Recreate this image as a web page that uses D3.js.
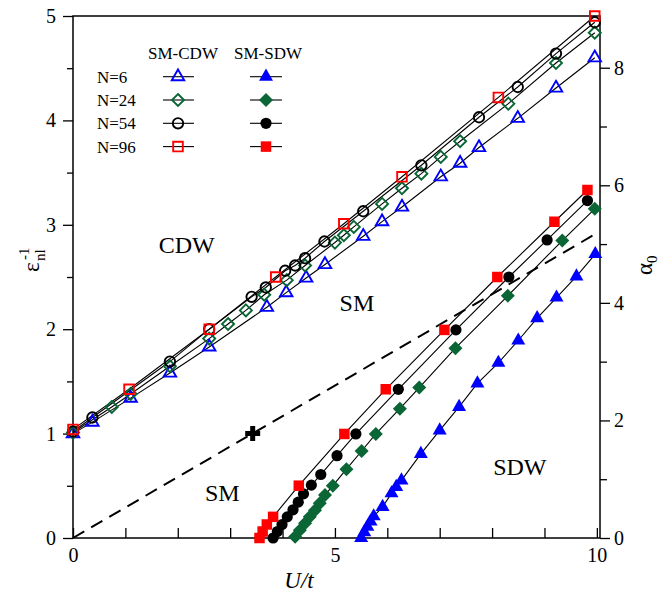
<!DOCTYPE html>
<html><head><meta charset="utf-8">
<script src="https://cdn.jsdelivr.net/npm/d3@7/dist/d3.min.js"></script>
<style>
body{margin:0;background:#fff}
svg{display:block}
text{font-family:"Liberation Serif","Times New Roman",serif;fill:#000}
</style>
</head><body>
<svg id="c" width="668" height="597"></svg>
<script>
// ---------- data ----------
// SM-CDW boundary: inverse non-local dielectric, left axis
const uCdwN6   = [0, 0.37, 1.1, 1.85, 2.6, 3.7, 4.07, 4.45, 4.81, 5.54, 5.9, 6.28, 7.02, 7.39, 7.75, 8.49, 9.22, 9.96];
const epsCdwN6 = [1.0, 1.11, 1.34, 1.58, 1.83, 2.21, 2.35, 2.49, 2.62, 2.89, 3.03, 3.17, 3.46, 3.59, 3.74, 4.02, 4.31, 4.6];
const uCdwN24   = [0, 0.74, 1.1, 1.85, 2.6, 2.96, 3.3, 3.65, 4.08, 4.43, 5.0, 5.17, 5.36, 5.9, 6.28, 6.65, 7.02, 7.39, 8.31, 9.22, 9.96];
const epsCdwN24 = [1.01, 1.255, 1.38, 1.645, 1.91, 2.05, 2.18, 2.33, 2.47, 2.61, 2.83, 2.9, 2.98, 3.2, 3.35, 3.49, 3.65, 3.8, 4.16, 4.55, 4.84];
const uCdwN54   = [0, 0.37, 1.85, 2.6, 3.41, 3.68, 4.05, 4.24, 4.43, 4.8, 5.54, 6.65, 7.75, 8.49, 9.22, 9.96];
const epsCdwN54 = [1.02, 1.154, 1.69, 2.0, 2.31, 2.4, 2.56, 2.61, 2.68, 2.84, 3.13, 3.57, 4.03, 4.32, 4.64, 4.94];
const uCdwN96   = [0, 1.07, 2.6, 3.87, 5.17, 6.28, 8.12, 9.96];
const epsCdwN96 = [1.04, 1.425, 2.0, 2.5, 3.01, 3.46, 4.22, 5.0];
// SM-SDW boundary: alpha_0, right axis
const uSdwN6     = [5.5, 5.56, 5.62, 5.68, 5.74, 5.91, 6.08, 6.17, 6.27, 6.64, 7.0, 7.37, 7.72, 8.12, 8.5, 8.86, 9.23, 9.61, 9.97];
const alphaSdwN6 = [0.0, 0.1, 0.19, 0.28, 0.37, 0.53, 0.76, 0.87, 0.98, 1.43, 1.83, 2.23, 2.63, 2.98, 3.36, 3.74, 4.09, 4.45, 4.83];
const uSdwN24     = [4.24, 4.33, 4.43, 4.52, 4.62, 4.71, 4.81, 4.96, 5.22, 5.51, 5.78, 6.24, 6.61, 7.3, 8.3, 9.34, 9.96];
const alphaSdwN24 = [0.02, 0.13, 0.25, 0.36, 0.47, 0.59, 0.73, 0.89, 1.17, 1.48, 1.77, 2.2, 2.56, 3.23, 4.12, 5.06, 5.6];
const uSdwN54     = [3.82, 3.9, 3.99, 4.09, 4.2, 4.3, 4.4, 4.55, 4.73, 5.04, 5.4, 6.21, 7.31, 8.32, 9.05, 9.82];
const alphaSdwN54 = [0.0, 0.11, 0.23, 0.36, 0.48, 0.61, 0.75, 0.9, 1.08, 1.4, 1.77, 2.53, 3.54, 4.44, 5.07, 5.74];
const uSdwN96     = [3.56, 3.62, 3.7, 3.82, 4.31, 5.18, 5.97, 7.09, 8.1, 9.19, 9.82];
const alphaSdwN96 = [0.0, 0.11, 0.23, 0.36, 0.89, 1.77, 2.53, 3.54, 4.44, 5.38, 5.92];
// dashed boundary and marked point (left-axis units)
const uDashed   = [0, 10];
const epsDashed = [0, 2.92];
const crossPoint = [3.43, 1.0];
// axes
const xTicks = [0,1,2,3,4,5,6,7,8,9,10];
const xLabels = [0,5,10];
const yMajor = [0,1,2,3,4,5];
const yMinor = [0.5,1.5,2.5,3.5,4.5];
const aMajor = [0,2,4,6,8];
const aMinor = [1,3,5,7];
const legendNames = ["N=6","N=24","N=54","N=96"];
const regionLabels = [
  {t:"CDW", u:2.17, e:2.73},
  {t:"SM",  u:5.42, e:2.17},
  {t:"SM",  u:2.85, e:0.35},
  {t:"SDW", u:8.53, e:0.6}
];

// ---------- scales ----------
const L=73, R=600, T=16, B=538;
const x  = d3.scaleLinear().domain([0,10.06]).range([L,R]);
const yL = d3.scaleLinear().domain([0,5]).range([B,T]);
const yR = d3.scaleLinear().domain([0,8.88]).range([B,T]);

const svg = d3.select("#c");
const colors = {N6:"#0000ff", N24:"#0a6634", N54:"#000000", N96:"#ff0000"};

// ---------- shapes ----------
function triPath(s){const h=s*Math.sqrt(3)/2;return `M0,${-2*h/3}L${s/2},${h/3}L${-s/2},${h/3}Z`;}
function diaPath(r){return `M0,${-r}L${r},0L0,${r}L${-r},0Z`;}
function sqPath(s){return `M${-s/2},${-s/2}h${s}v${s}h${-s}Z`;}
function circPath(r){return `M${r},0A${r},${r} 0 1,1 ${-r},0A${r},${r} 0 1,1 ${r},0Z`;}
const openShapes  = {N6:triPath(12.5), N24:diaPath(6), N54:circPath(5.2), N96:sqPath(9.6)};
const filledShapes= {N6:triPath(14), N24:diaPath(7), N54:circPath(5.6), N96:sqPath(10.5)};

const cdw = [
  {k:"N6",  u:uCdwN6,  v:epsCdwN6},
  {k:"N24", u:uCdwN24, v:epsCdwN24},
  {k:"N54", u:uCdwN54, v:epsCdwN54},
  {k:"N96", u:uCdwN96, v:epsCdwN96}
];
const sdw = [
  {k:"N6",  u:uSdwN6,  v:alphaSdwN6},
  {k:"N24", u:uSdwN24, v:alphaSdwN24},
  {k:"N54", u:uSdwN54, v:alphaSdwN54},
  {k:"N96", u:uSdwN96, v:alphaSdwN96}
];

// ---------- axes ----------
const fs = 20;
function styleAxis(g){g.select(".domain").remove();g.selectAll("line").attr("stroke","#000").attr("stroke-width",1.3);
  g.selectAll("text").attr("font-size",fs).attr("font-family","Liberation Serif");}
svg.append("g").attr("transform",`translate(${L},0)`)
  .call(d3.axisLeft(yL).tickValues(yMajor).tickSize(10).tickPadding(7).tickFormat(d3.format("d"))).call(styleAxis);
svg.append("g").attr("transform",`translate(${L},0)`)
  .call(d3.axisLeft(yL).tickValues(yMinor).tickSize(6).tickFormat("")).call(styleAxis);
svg.append("g").attr("transform",`translate(0,${B})`)
  .call(d3.axisBottom(x).tickValues(xTicks).tickSizeInner(-10).tickSizeOuter(0).tickPadding(10)
     .tickFormat(d=>xLabels.includes(d)?String(d):"")).call(styleAxis);
svg.append("g").attr("transform",`translate(${R},0)`)
  .call(d3.axisRight(yR).tickValues(aMajor).tickSize(10).tickPadding(4).tickFormat(d3.format("d"))).call(styleAxis);
svg.append("g").attr("transform",`translate(${R},0)`)
  .call(d3.axisRight(yR).tickValues(aMinor).tickSize(7).tickFormat("")).call(styleAxis);

// frame
svg.append("rect").attr("x",L).attr("y",T).attr("width",R-L).attr("height",B-T)
  .attr("fill","none").attr("stroke","#000").attr("stroke-width",1.5);

// axis titles
svg.append("text").attr("x",299).attr("y",588).attr("text-anchor","middle")
  .attr("font-size",23).attr("font-style","italic").text("U/t");
const yl = svg.append("g").attr("transform","translate(39,258) rotate(-90)");
yl.append("text").attr("x",-14).attr("y",0).attr("font-size",23).text("ε");
yl.append("text").attr("x",-3).attr("y",6).attr("font-size",15).text("nl");
yl.append("text").attr("x",-2).attr("y",-10).attr("font-size",15).text("-1");
const al = svg.append("g").attr("transform","translate(652,266) rotate(-90)");
al.append("text").attr("x",-9).attr("y",0).attr("font-size",23).text("α");
al.append("text").attr("x",3).attr("y",5).attr("font-size",15).text("0");

// ---------- plot ----------
const plot = svg.append("g");
// dashed line
plot.append("path")
  .attr("d", d3.line().x(d=>x(d[0])).y(d=>yL(d[1]))(d3.zip(uDashed,epsDashed)))
  .attr("fill","none").attr("stroke","#000").attr("stroke-width",2).attr("stroke-dasharray","13,8");
// cross
plot.append("path").attr("transform",`translate(${x(crossPoint[0])},${yL(crossPoint[1])})`)
  .attr("d","M-7.5,-2.5H-2.5V-7.5H2.5V-2.5H7.5V2.5H2.5V7.5H-2.5V2.5H-7.5Z").attr("fill","#000");

const lineL = d3.line().x(d=>x(d[0])).y(d=>yL(d[1]));
const lineR = d3.line().x(d=>x(d[0])).y(d=>yR(d[1]));
cdw.forEach(s=>{
  plot.append("path").attr("d",lineL(d3.zip(s.u,s.v))).attr("fill","none").attr("stroke","#000").attr("stroke-width",1.1);
});
sdw.forEach(s=>{
  plot.append("path").attr("d",lineR(d3.zip(s.u,s.v))).attr("fill","none").attr("stroke","#000").attr("stroke-width",1.1);
});
cdw.forEach(s=>{
  plot.append("g").selectAll("path").data(d3.zip(s.u,s.v)).join("path")
    .attr("transform",d=>`translate(${x(d[0])},${yL(d[1])})`)
    .attr("d",openShapes[s.k]).attr("fill","none").attr("stroke",colors[s.k]).attr("stroke-width",1.9);
});
sdw.forEach(s=>{
  plot.append("g").selectAll("path").data(d3.zip(s.u,s.v)).join("path")
    .attr("transform",d=>`translate(${x(d[0])},${yR(d[1])})`)
    .attr("d",filledShapes[s.k]).attr("fill",colors[s.k]).attr("stroke","none");
});

// region labels
svg.append("g").selectAll("text").data(regionLabels).join("text")
  .attr("x",d=>x(d.u)).attr("y",d=>yL(d.e)).attr("text-anchor","middle").attr("font-size",24).text(d=>d.t);

// ---------- legend ----------
const lg = svg.append("g").attr("font-size",17);
lg.append("text").attr("x",183).attr("y",59).attr("text-anchor","middle").text("SM-CDW");
lg.append("text").attr("x",268).attr("y",59).attr("text-anchor","middle").text("SM-SDW");
const keys=["N6","N24","N54","N96"];
keys.forEach((k,i)=>{
  const yy = 76.7 + i*23.3;
  lg.append("text").attr("x",97).attr("y",yy+6).text(legendNames[i]);
  lg.append("line").attr("x1",163).attr("x2",194).attr("y1",yy).attr("y2",yy).attr("stroke","#000").attr("stroke-width",1.1);
  lg.append("path").attr("transform",`translate(178,${yy})`).attr("d",openShapes[k]).attr("fill","none").attr("stroke",colors[k]).attr("stroke-width",1.9);
  lg.append("line").attr("x1",250).attr("x2",282).attr("y1",yy).attr("y2",yy).attr("stroke","#000").attr("stroke-width",1.1);
  lg.append("path").attr("transform",`translate(266,${yy})`).attr("d",filledShapes[k]).attr("fill",colors[k]);
});
</script>
</body></html>
